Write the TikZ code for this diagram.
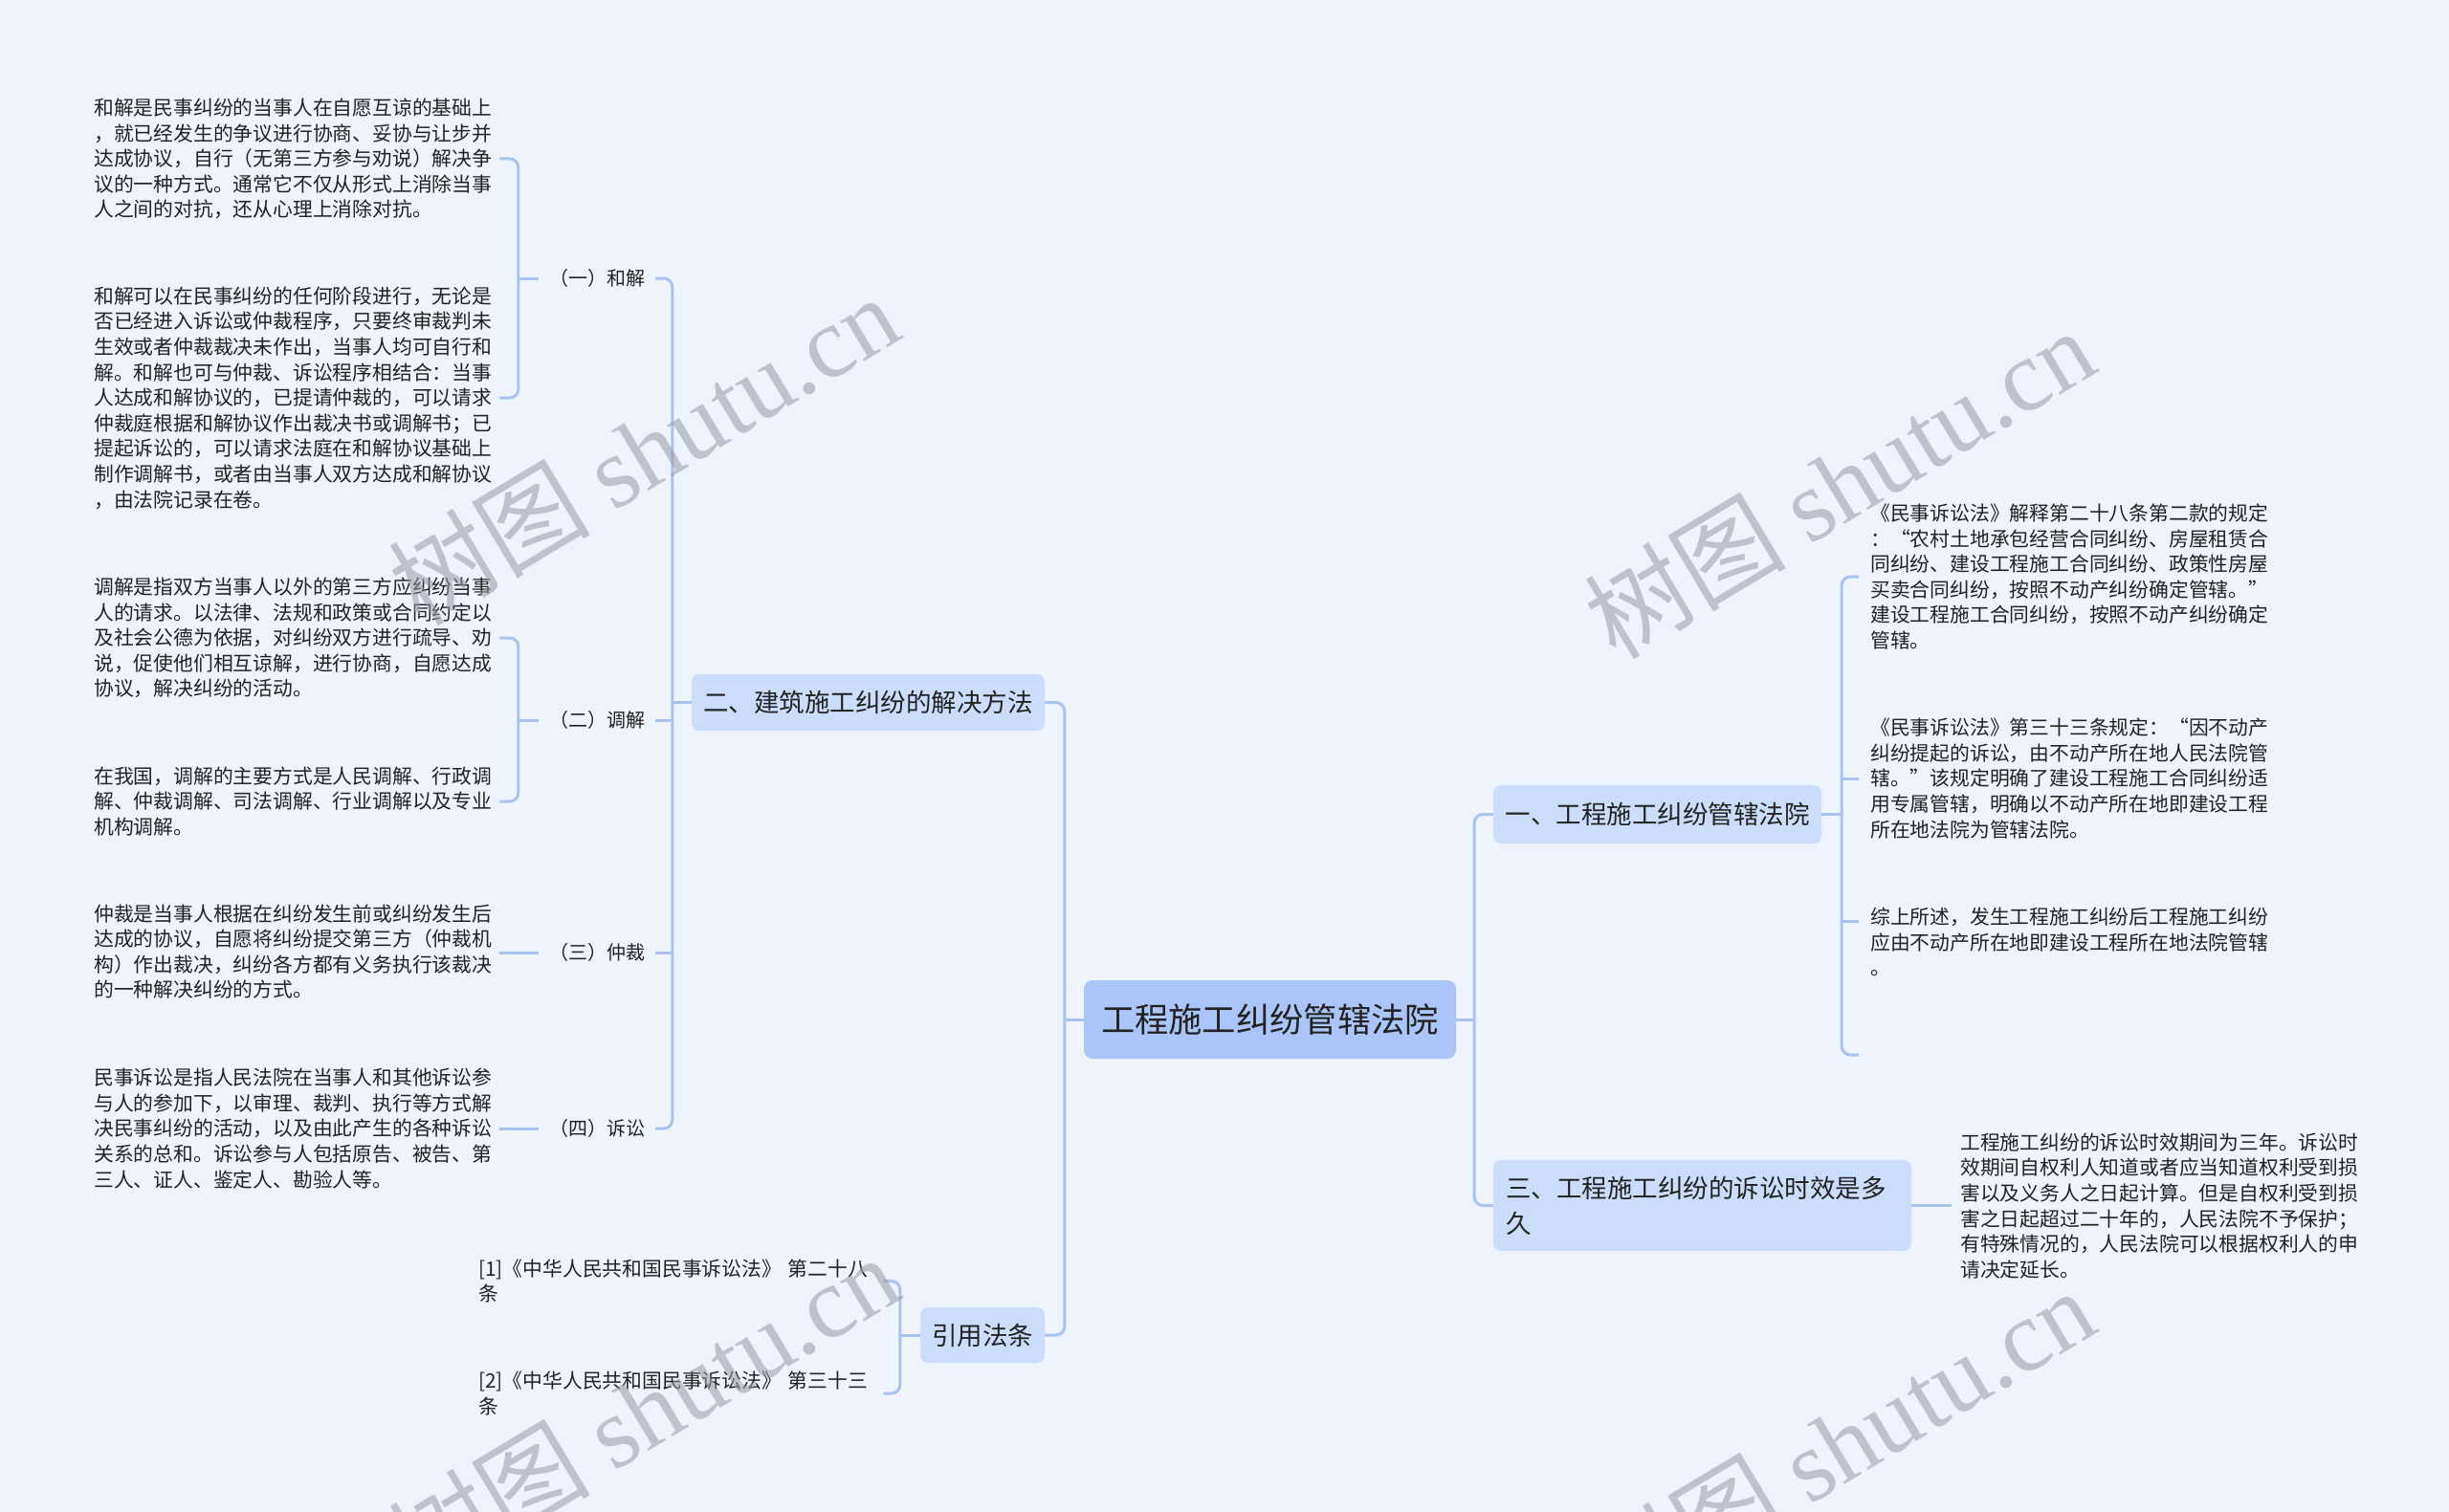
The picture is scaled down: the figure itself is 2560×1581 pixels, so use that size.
\documentclass[tikz,border=0pt]{standalone}
\usepackage{fontspec}
\setmainfont{Noto Sans CJK SC}
\newfontfamily\wmfont{Liberation Serif}
\definecolor{bgc}{RGB}{238,243,252}
\definecolor{rootc}{RGB}{170,197,248}
\definecolor{boxc}{RGB}{204,221,251}
\definecolor{linec}{RGB}{169,194,239}
\definecolor{txt}{RGB}{34,34,34}
\definecolor{wmc}{RGB}{150,155,165}
\begin{document}
\begin{tikzpicture}[x=1pt,y=1pt,
  conn/.style={draw=linec,line width=3pt},
  brace/.style={conn,rounded corners=9pt},
  leaf/.style={align=left,text width=420pt,inner xsep=4pt,inner ysep=0pt,anchor=west,
    font=\fontsize{20.8}{26.6}\selectfont,text=txt},
  lab/.style={inner xsep=11pt,inner ysep=4pt,font=\fontsize{20}{24}\selectfont,text=txt},
  branch/.style={fill=boxc,rounded corners=8pt,inner sep=0pt,text=txt,
    font=\fontsize{26.5}{37}\selectfont},
  rootbox/.style={fill=rootc,rounded corners=9pt,inner sep=0pt,text=txt,
    font=\fontsize{35.3}{42}\selectfont,minimum width=389pt,minimum height=82pt},
  wm/.style={rotate=31,text=wmc,opacity=0.55,font=\fontsize{106}{110}\selectfont}
]
\useasboundingbox (0,0) rectangle (2560,-1581);
\fill[bgc] (0,0) rectangle (2560,-1581);

% root and branches
\node[rootbox] (root) at (1327.5,-1066) {工程施工纠纷管辖法院};
\node[branch,minimum width=369pt,minimum height=59pt] (b2) at (907.5,-734.5) {二、建筑施工纠纷的解决方法};
\node[branch,minimum width=130pt,minimum height=58pt] (bref) at (1027,-1396) {引用法条};
\node[branch,minimum width=343pt,minimum height=61pt] (b1) at (1732.5,-851.5) {一、工程施工纠纷管辖法院};
\node[branch,minimum height=95pt,text width=411pt,align=left,inner xsep=13pt] (b3) at (1779.5,-1260.5) {三、工程施工纠纷的诉讼时效是多\\久};

% labels on the left
\node[lab] (lab1) at (624,-291) {（一）和解};
\node[lab] (lab2) at (624,-753) {（二）调解};
\node[lab] (lab3) at (624,-996) {（三）仲裁};
\node[lab] (lab4) at (624,-1180) {（四）诉讼};

% left leaves
\node[leaf] (L1) at (94,-166) {和解是民事纠纷的当事人在自愿互谅的基础上\\，就已经发生的争议进行协商、妥协与让步并\\达成协议，自行（无第三方参与劝说）解决争\\议的一种方式。通常它不仅从形式上消除当事\\人之间的对抗，还从心理上消除对抗。};
\node[leaf] (L2) at (94,-416) {和解可以在民事纠纷的任何阶段进行，无论是\\否已经进入诉讼或仲裁程序，只要终审裁判未\\生效或者仲裁裁决未作出，当事人均可自行和\\解。和解也可与仲裁、诉讼程序相结合：当事\\人达成和解协议的，已提请仲裁的，可以请求\\仲裁庭根据和解协议作出裁决书或调解书；已\\提起诉讼的，可以请求法庭在和解协议基础上\\制作调解书，或者由当事人双方达成和解协议\\，由法院记录在卷。};
\node[leaf] (L3) at (94,-667) {调解是指双方当事人以外的第三方应纠纷当事\\人的请求。以法律、法规和政策或合同约定以\\及社会公德为依据，对纠纷双方进行疏导、劝\\说，促使他们相互谅解，进行协商，自愿达成\\协议，解决纠纷的活动。};
\node[leaf] (L4) at (94,-838) {在我国，调解的主要方式是人民调解、行政调\\解、仲裁调解、司法调解、行业调解以及专业\\机构调解。};
\node[leaf] (L5) at (94,-995) {仲裁是当事人根据在纠纷发生前或纠纷发生后\\达成的协议，自愿将纠纷提交第三方（仲裁机\\构）作出裁决，纠纷各方都有义务执行该裁决\\的一种解决纠纷的方式。};
\node[leaf] (L6) at (94,-1180) {民事诉讼是指人民法院在当事人和其他诉讼参\\与人的参加下，以审理、裁判、执行等方式解\\决民事纠纷的活动，以及由此产生的各种诉讼\\关系的总和。诉讼参与人包括原告、被告、第\\三人、证人、鉴定人、勘验人等。};

% references
\node[leaf,inner xsep=3pt] (ref1) at (497,-1339.5) {[1]《中华人民共和国民事诉讼法》 第二十八\\条};
\node[leaf,inner xsep=3pt] (ref2) at (497,-1457) {[2]《中华人民共和国民事诉讼法》 第三十三\\条};

% right leaves
\node[leaf,inner xsep=12pt] (R1) at (1943,-603) {《民事诉讼法》解释第二十八条第二款的规定\\：“农村土地承包经营合同纠纷、房屋租赁合\\同纠纷、建设工程施工合同纠纷、政策性房屋\\买卖合同纠纷，按照不动产纠纷确定管辖。”\\建设工程施工合同纠纷，按照不动产纠纷确定\\管辖。};
\node[leaf,inner xsep=12pt] (R2) at (1943,-814) {《民事诉讼法》第三十三条规定：“因不动产\\纠纷提起的诉讼，由不动产所在地人民法院管\\辖。”该规定明确了建设工程施工合同纠纷适\\用专属管辖，明确以不动产所在地即建设工程\\所在地法院为管辖法院。};
\node[leaf,inner xsep=12pt] (R3) at (1943,-985) {综上所述，发生工程施工纠纷后工程施工纠纷\\应由不动产所在地即建设工程所在地法院管辖\\。};
\coordinate (R4) at (1943,-1103);
\node[leaf,inner xsep=9pt] (T) at (2040,-1261) {工程施工纠纷的诉讼时效期间为三年。诉讼时\\效期间自权利人知道或者应当知道权利受到损\\害以及义务人之日起计算。但是自权利受到损\\害之日起超过二十年的，人民法院不予保护；\\有特殊情况的，人民法院可以根据权利人的申\\请决定延长。};

% connectors: left sub-brackets
\draw[conn] (lab1.west) -- ++(-21,0) coordinate (j1);
\draw[brace] (L1.east) -- (L1.east -| j1) -- (L2.east -| j1) -- (L2.east);
\draw[conn] (lab2.west) -- ++(-21,0) coordinate (j1b);
\draw[brace] (L3.east) -- (L3.east -| j1b) -- (L4.east -| j1b) -- (L4.east);
\draw[conn] (lab3.west) -- (lab3.west -| L5.east);
\draw[conn] (lab4.west) -- (lab4.west -| L6.east);

% main left bracket
\draw[conn] (b2.west) -- ++(-20,0) coordinate (j2);
\draw[brace] (lab1.east) -- (lab1.east -| j2) -- (lab4.east -| j2) -- (lab4.east);
\draw[conn] (lab2.east) -- (lab2.east -| j2);
\draw[conn] (lab3.east) -- (lab3.east -| j2);

% trunk left
\draw[conn] (root.west) -- ++(-20,0) coordinate (j3);
\draw[brace] (b2.east) -- (b2.east -| j3) -- (bref.east -| j3) -- (bref.east);

% references bracket
\draw[conn] (bref.west) -- ++(-21,0) coordinate (j4);
\draw[brace] (ref1.east) -- (ref1.east -| j4) -- (ref2.east -| j4) -- (ref2.east);

% trunk right
\draw[conn] (root.east) -- ++(19,0) coordinate (j5);
\draw[brace] (b1.west) -- (b1.west -| j5) -- (b3.west -| j5) -- (b3.west);

% bracket of branch one
\draw[conn] (b1.east) -- ++(21,0) coordinate (j6);
\draw[brace] (R1.west) -- (R1.west -| j6) -- (R4 -| j6) -- (R4);
\draw[conn] (R2.west) -- (R2.west -| j6);
\draw[conn] ([yshift=22pt]R3.west) -- ([yshift=22pt]R3.west -| j6);

% branch three
\draw[conn] (b3.east) -- (b3.east -| T.west);

% watermarks
\node[wm] (wm1) at (672,-470) {树图 {\wmfont shutu.cn}};
\node[wm] (wm2) at (1922,-505) {树图 {\wmfont shutu.cn}};
\node[wm] (wm3) at (672,-1474) {树图 {\wmfont shutu.cn}};
\node[wm] (wm4) at (1922,-1509) {树图 {\wmfont shutu.cn}};
\end{tikzpicture}
\end{document}
